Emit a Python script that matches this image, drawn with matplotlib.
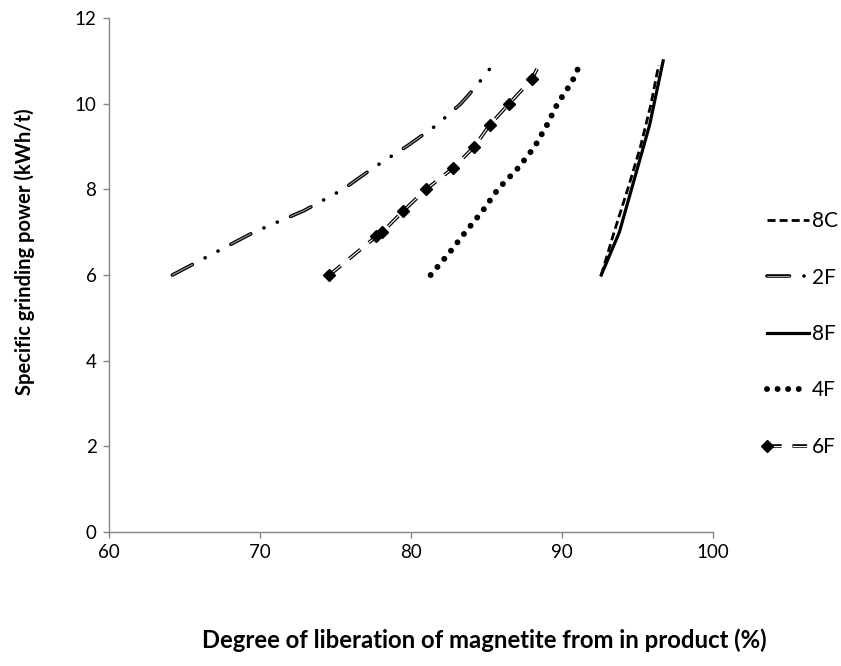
import matplotlib
matplotlib.use('Agg')
import matplotlib.pyplot as plt
from matplotlib.legend_handler import HandlerLine2D

plt.rcParams['font.family'] = ['Lato', 'DejaVu Sans']
plt.rcParams['lines.scale_dashes'] = False

# data
x_8c = [92.6, 93.45, 94.35, 95.2, 95.9, 96.4]
y_8c = [6.0, 7.0, 8.0, 9.0, 10.0, 10.9]

x_2f = [64.2, 66.9, 69.6, 72.9, 75.5, 77.5, 79.7, 81.7, 83.3, 84.3, 85.3]
y_2f = [6.0, 6.5, 7.0, 7.5, 8.0, 8.5, 9.0, 9.5, 10.0, 10.4, 10.85]

x_8f = [92.6, 93.8, 94.6, 95.0, 95.8, 96.1, 96.7]
y_8f = [6.0, 7.0, 8.0, 8.5, 9.5, 10.0, 11.0]

x_4f = [81.3, 82.5, 83.6, 84.75, 85.75, 87.1, 88.2, 89.0, 89.7, 90.65, 91.1]
y_4f = [6.0, 6.5, 7.0, 7.5, 8.0, 8.5, 9.0, 9.5, 10.0, 10.5, 10.85]

x_6f = [74.6, 77.7, 78.1, 79.5, 81.0, 82.8, 84.2, 85.2, 86.5, 88.0, 88.4]
y_6f = [6.0, 6.9, 7.0, 7.5, 8.0, 8.5, 9.0, 9.5, 10.0, 10.57, 10.85]

xticks = [60, 70, 80, 90, 100]
yticks = [0, 2, 4, 6, 8, 10, 12]


class MarkerLeft(HandlerLine2D):
    # legend marker at the left end of the sample, like Excel does here
    def create_artists(self, *args, **kwargs):
        arts = super().create_artists(*args, **kwargs)
        for a in arts:
            a.set_markevery([0])
        return arts


fig = plt.figure(figsize=(8.41, 6.66), dpi=100)
ax = fig.add_axes([109 / 841, 1 - 532 / 666, 604 / 841, 514 / 666])

l8c, = ax.plot(x_8c, y_8c, color='black', lw=2.0, dashes=(5.8, 2.9))

# 2F: double line, long dash dot dot
o2 = (0, (16.2, 10.37, 0.1, 10.37, 0.1, 10.37))
i2 = (0, (16.2, 31.3))
l2a, = ax.plot(x_2f, y_2f, color='black', lw=2.6, linestyle=o2,
               dash_capstyle='round')
l2b, = ax.plot(x_2f, y_2f, color='#a0a0a0', lw=0.8, linestyle=i2,
               dash_capstyle='round')

l8f, = ax.plot(x_8f, y_8f, color='black', lw=2.3)

l4f, = ax.plot(x_4f, y_4f, color='black', lw=4.3, linestyle=(0, (0.01, 7.6)),
               dash_capstyle='round')

# 6F: double dashed line with diamond markers
l6a, = ax.plot(x_6f, y_6f, color='black', lw=2.6, dashes=(10.6, 7.7))
l6b, = ax.plot(x_6f, y_6f, color='white', lw=0.8, dashes=(10.6, 7.7))
l6m, = ax.plot(x_6f[:-1], y_6f[:-1], linestyle='none', marker='D',
               color='black', markersize=6.5)

ax.set_xlim(60, 100)
ax.set_ylim(0, 12)
ax.set_xticks(xticks)
ax.set_yticks(yticks)
for s in ['top', 'right']:
    ax.spines[s].set_visible(False)
for s in ['left', 'bottom']:
    ax.spines[s].set_color('#868686')
    ax.spines[s].set_linewidth(1.0)
ax.tick_params(direction='out', length=4, width=1, color='#868686',
               labelsize=13.5, labelcolor='black', pad=5)

fig.text(25 / 841, 1 - 252 / 666, 'Specific grinding power (kWh/t)',
         fontsize=14.5, fontweight='bold', rotation=90,
         ha='center', va='center')
fig.text(484 / 841, 1 - 640 / 666,
         'Degree of liberation of magnetite from in product (%)',
         fontsize=17.2, fontweight='bold', ha='center', va='center')

fig.legend([l8c, (l2a, l2b), l8f, l4f, (l6a, l6b, l6m)],
           ['8C', '2F', '8F', '4F', '6F'],
           handler_map={l6m: MarkerLeft()},
           loc='center left', bbox_to_anchor=(767 / 841, 1 - 334 / 666),
           frameon=False, fontsize=15, handlelength=2.0, handletextpad=0.15,
           labelspacing=1.75, borderpad=0, borderaxespad=0)

fig.savefig('out.png', dpi=100)
